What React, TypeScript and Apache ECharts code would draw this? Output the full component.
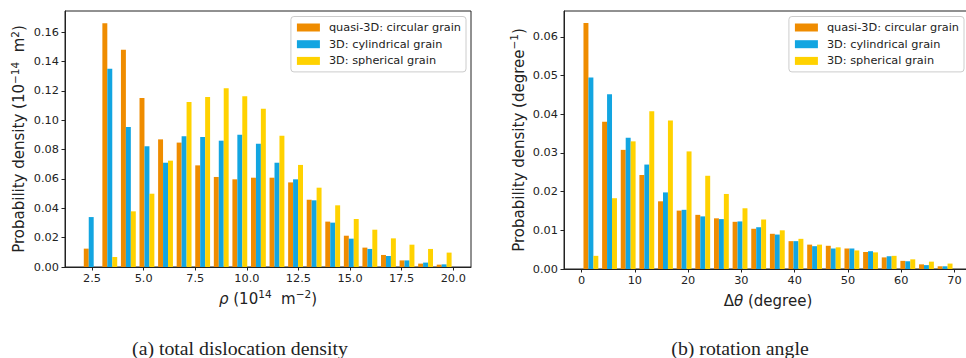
import React, { useEffect, useRef } from "react";
import * as echarts from "echarts";

const seriesNames = ["quasi-3D: circular grain", "3D: cylindrical grain", "3D: spherical grain"];
const colors = ["#EF8C00", "#12A5E1", "#FFD200"];

// (a) total dislocation density: bin centres (10^14 m^-2) and densities
const rhoCenters = [2.46, 3.36, 4.26, 5.16, 6.06, 6.96, 7.86, 8.76, 9.66, 10.56, 11.46, 12.36, 13.26, 14.16, 15.06, 15.96, 16.86, 17.76, 18.66, 19.56];
const rhoQuasi = [0.0125, 0.166, 0.148, 0.115, 0.0869, 0.0847, 0.0692, 0.0613, 0.0597, 0.0608, 0.0608, 0.0576, 0.0458, 0.0309, 0.0213, 0.0132, 0.0082, 0.0045, 0.0023, 0.0016];
const rhoCyl = [0.034, 0.135, 0.0953, 0.0822, 0.071, 0.089, 0.0885, 0.086, 0.0901, 0.084, 0.071, 0.0597, 0.0454, 0.0302, 0.0193, 0.0123, 0.0075, 0.0045, 0.003, 0.0018];
const rhoSph = [0, 0.0068, 0.0379, 0.0499, 0.0724, 0.1123, 0.1158, 0.1217, 0.1162, 0.1078, 0.0894, 0.0695, 0.054, 0.042, 0.0327, 0.0254, 0.0195, 0.0152, 0.0123, 0.0098];

// (b) rotation angle: bin centres (degree) and densities
const angCenters = [1.75, 5.25, 8.75, 12.25, 15.75, 19.25, 22.75, 26.25, 29.75, 33.25, 36.75, 40.25, 43.75, 47.25, 50.75, 54.25, 57.75, 61.25, 64.75, 68.25];
const angQuasi = [0.0636, 0.0381, 0.0308, 0.0243, 0.0175, 0.0151, 0.014, 0.0131, 0.0122, 0.0104, 0.0091, 0.0072, 0.0063, 0.006, 0.0053, 0.0044, 0.003, 0.0021, 0.0012, 0.0007];
const angCyl = [0.0495, 0.0452, 0.0339, 0.027, 0.0198, 0.0153, 0.0136, 0.0129, 0.0123, 0.0108, 0.0089, 0.0072, 0.0059, 0.0053, 0.0053, 0.0046, 0.0033, 0.002, 0.001, 0.0007];
const angSph = [0.0034, 0.0183, 0.033, 0.0408, 0.0384, 0.0304, 0.0241, 0.0194, 0.0157, 0.0128, 0.01, 0.0078, 0.0063, 0.0056, 0.0048, 0.0043, 0.0034, 0.0025, 0.0019, 0.0014];

// tick labels
const rhoTicks = [2.5, 5.0, 7.5, 10.0, 12.5, 15.0, 17.5, 20.0];
const densTicksA = [0, 0.02, 0.04, 0.06, 0.08, 0.1, 0.12, 0.14, 0.16];
const angTicks = [0, 10, 20, 30, 40, 50, 60, 70];
const densTicksB = [0, 0.01, 0.02, 0.03, 0.04, 0.05, 0.06];

const captions = ["(a) total dislocation density", "(b) rotation angle"];

const FONT = "DejaVu Sans";
const INK = "#222";

const richStyles = {
  sup: { fontFamily: FONT, fontSize: 10.5, color: INK, verticalAlign: "top", lineHeight: 11 },
  it: { fontFamily: FONT, fontSize: 15, color: INK, fontStyle: "italic", lineHeight: 20 },
};

const nameStyle = { fontFamily: FONT, fontSize: 15, color: INK, lineHeight: 20, rich: richStyles };

function makeXAxis(gridIndex: number, min: number, max: number, ticks: number[], digits: number, name: string) {
  return {
    type: "value",
    gridIndex,
    min,
    max,
    name,
    nameLocation: "middle",
    nameGap: 20,
    nameTextStyle: nameStyle,
    axisLine: { show: true, onZero: false, lineStyle: { color: INK, width: 1 } },
    axisTick: { show: true, inside: false, length: 3.5, customValues: ticks, lineStyle: { color: INK, width: 1 } },
    axisLabel: {
      show: true,
      customValues: ticks,
      margin: 6,
      color: INK,
      fontFamily: FONT,
      fontSize: 11.3,
      formatter: (v: number) => v.toFixed(digits),
    },
    splitLine: { show: false },
  };
}

function makeYAxis(gridIndex: number, max: number, ticks: number[], name: string, gap: number) {
  return {
    type: "value",
    gridIndex,
    min: 0,
    max,
    name,
    nameLocation: "middle",
    nameRotate: 90,
    nameGap: gap,
    nameTextStyle: nameStyle,
    axisLine: { show: true, onZero: false, lineStyle: { color: INK, width: 1 } },
    axisTick: { show: true, inside: false, length: 3.5, customValues: ticks, lineStyle: { color: INK, width: 1 } },
    axisLabel: {
      show: true,
      customValues: ticks,
      margin: 6,
      color: INK,
      fontFamily: FONT,
      fontSize: 11.3,
      formatter: (v: number) => v.toFixed(2),
    },
    splitLine: { show: false },
  };
}

function makeLegend(right: number) {
  return {
    data: seriesNames,
    orient: "vertical",
    right,
    top: 16.5,
    icon: "rect",
    itemWidth: 23,
    itemHeight: 8,
    itemGap: 2.7,
    padding: [4, 5, 4, 6],
    backgroundColor: "rgba(255,255,255,0.85)",
    borderColor: "#cccccc",
    borderWidth: 1,
    borderRadius: 3,
    textStyle: { fontFamily: FONT, fontSize: 11.3, color: INK, lineHeight: 14, padding: [0, 0, 0, 4] },
  };
}

export default function App() {
  const ref = useRef<HTMLDivElement>(null);

  useEffect(() => {
    if (!ref.current) return;
    const chart = echarts.init(ref.current, null, { renderer: "svg" });

    const rhoData = [rhoQuasi, rhoCyl, rhoSph];
    const angData = [angQuasi, angCyl, angSph];

    const series: any[] = [];
    rhoData.forEach((vals, s) => {
      series.push({
        type: "bar",
        name: seriesNames[s],
        xAxisIndex: 0,
        yAxisIndex: 0,
        barWidth: 4.95,
        barGap: "0%",
        itemStyle: { color: colors[s] },
        data: rhoCenters.map((x, i) => [x, vals[i]]),
      });
    });
    angData.forEach((vals, s) => {
      series.push({
        type: "bar",
        name: seriesNames[s],
        xAxisIndex: 1,
        yAxisIndex: 1,
        barWidth: 4.95,
        barGap: "0%",
        itemStyle: { color: colors[s] },
        data: angCenters.map((x, i) => [x, vals[i]]),
      });
    });

    const option: any = {
      animation: false,
      backgroundColor: "#ffffff",
      grid: [
        { left: 65, top: 11, width: 406, height: 256, show: true, borderColor: INK, borderWidth: 1, backgroundColor: "transparent", containLabel: false, outerBoundsMode: "none" },
        { left: 564, top: 11, width: 408, height: 258, show: true, borderColor: INK, borderWidth: 1, backgroundColor: "transparent", containLabel: false, outerBoundsMode: "none" },
      ],
      xAxis: [
        makeXAxis(0, 1.19, 20.86, rhoTicks, 1, "{it|ρ} (10{sup|14}  m{sup|−2})"),
        makeXAxis(1, -3.3, 73.3, angTicks, 0, "Δ{it|θ} (degree)"),
      ],
      yAxis: [
        makeYAxis(0, 0.1743, densTicksA, "Probability density (10{sup|−14}  m{sup|2})", 36),
        makeYAxis(1, 0.0667, densTicksB, "Probability density (degree{sup|−1})", 29),
      ],
      legend: [makeLegend(500), makeLegend(2)],
      series,
      graphic: [
        {
          type: "text",
          x: 240,
          y: 348,
          style: { text: captions[0], fontFamily: "Liberation Serif", fontSize: 19.8, fill: INK, align: "center", verticalAlign: "middle" },
        },
        {
          type: "text",
          x: 740,
          y: 348,
          style: { text: captions[1], fontFamily: "Liberation Serif", fontSize: 19.8, fill: INK, align: "center", verticalAlign: "middle" },
        },
      ],
    };

    chart.setOption(option);
    return () => chart.dispose();
  }, []);

  return <div ref={ref} style={{ position: "absolute", left: 0, top: 0, width: 966, height: 358 }} />;
}
